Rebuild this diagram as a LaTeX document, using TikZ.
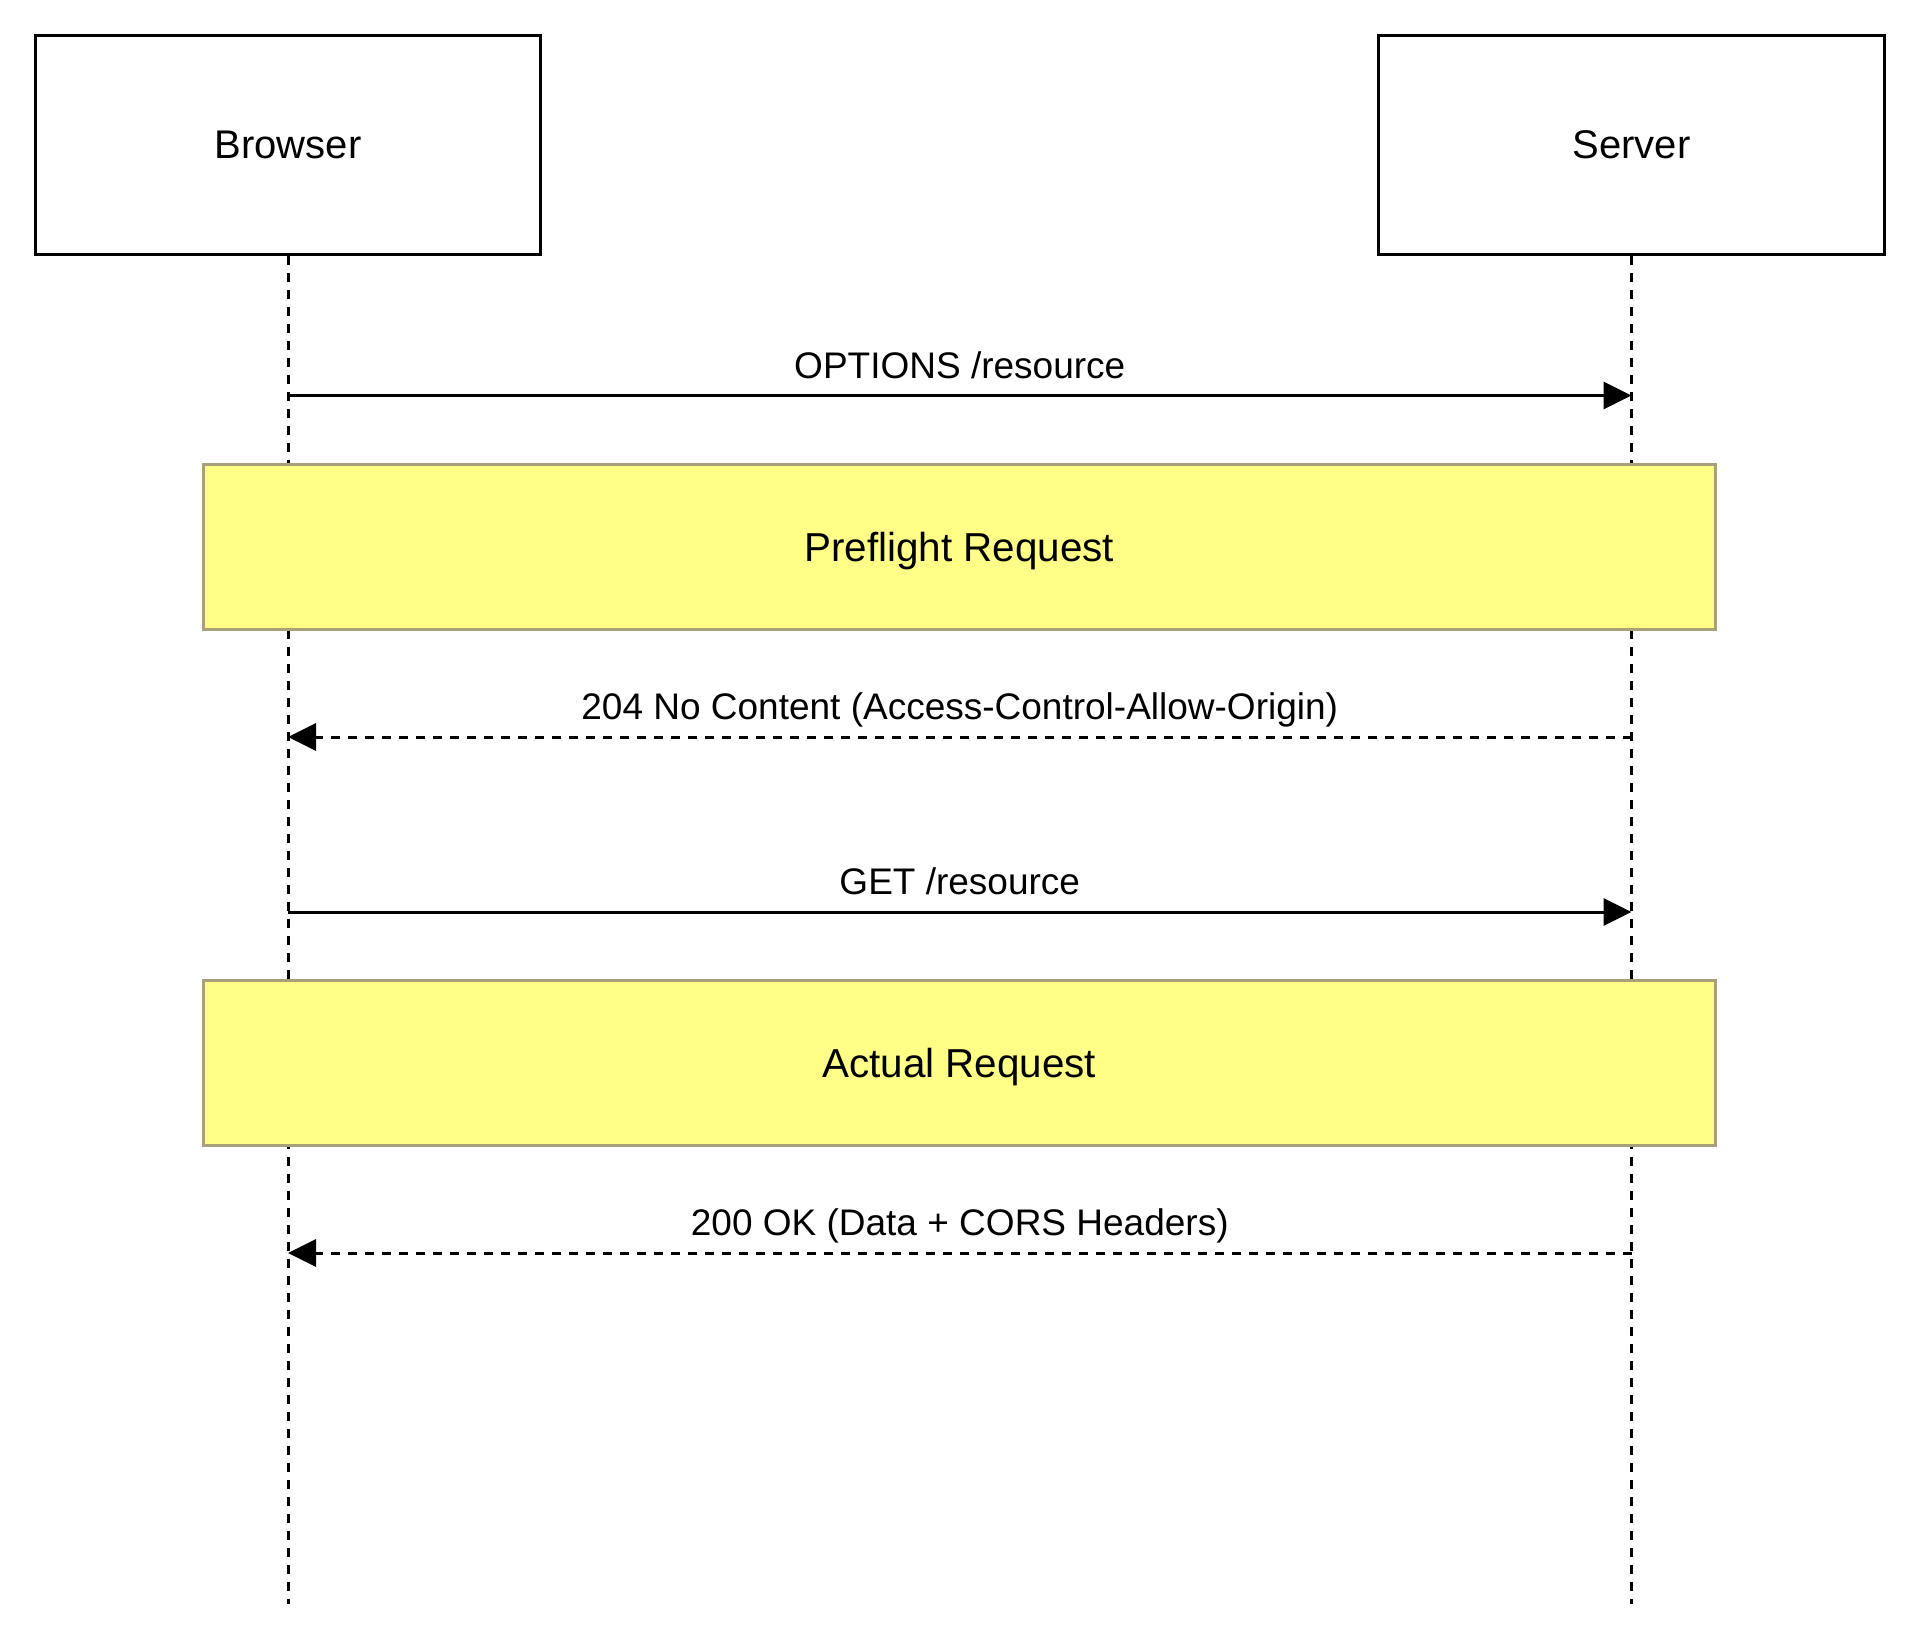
\documentclass[tikz,border=0pt]{standalone}
\usepackage{fontspec}
\setmainfont{Liberation Sans}
\usetikzlibrary{arrows.meta}

\definecolor{notefill}{RGB}{255,255,136}
\definecolor{notedraw}{RGB}{168,160,120}

\begin{document}
\begin{tikzpicture}[x=0.5pt, y=-0.5pt,
            actor/.style={rectangle, draw=black, fill=white, line width=1.5pt, minimum width=252.75pt, minimum height=109.75pt, font=\fontsize{20}{24}\selectfont},
            phase/.style={rectangle, draw=notedraw, fill=notefill, line width=1.5pt, minimum width=756.25pt, minimum height=82.5pt, text depth=0pt, font=\fontsize{20.2}{24}\selectfont},
            lifeline/.style={line width=1.5pt, dash pattern=on 4.5pt off 4pt},
            msg/.style={line width=1.5pt, -{Triangle[length=14pt, width=13.5pt]}},
            reply/.style={msg, dash pattern=on 4.5pt off 4pt},
            lbl/.style={font=\fontsize{18.5}{22}\selectfont, anchor=base, inner sep=0pt, yshift=8.75pt},
            ]
            \useasboundingbox (0,0) rectangle (1920,1643);
            %Nodes
            \node[actor]      (browser)      at (288,145)         {Browser};
            \node[actor]      (server)       at (1631.5,145)      {Server};
            \coordinate (browserend) at (288,1604);
            \coordinate (serverend)  at (1631.5,1604);
            \coordinate (r1) at (0,395.5);
            \coordinate (r2) at (0,737);
            \coordinate (r3) at (0,912);
            \coordinate (r4) at (0,1253);

            %Lines
            \draw[lifeline] (browser.south) -- (browserend);
            \draw[lifeline] (server.south) -- (serverend);

            \draw[msg] (browser.south |- r1) -- (server.south |- r1)
            node [lbl, midway] {OPTIONS /resource};
            \draw[reply] (server.south |- r2) -- (browser.south |- r2)
            node [lbl, midway] {204 No Content (Access-Control-Allow-Origin)};
            \draw[msg] (browser.south |- r3) -- (server.south |- r3)
            node [lbl, midway] {GET /resource};
            \draw[reply] (server.south |- r4) -- (browser.south |- r4)
            node [lbl, midway] {200 OK (Data + CORS Headers)};

            %Phases
            \node[phase]      (preflight)    at (959.25,546.5)    {Preflight Request};
            \node[phase]      (actual)       at (959.25,1062.5)   {Actual Request};
          \end{tikzpicture}
\end{document}
